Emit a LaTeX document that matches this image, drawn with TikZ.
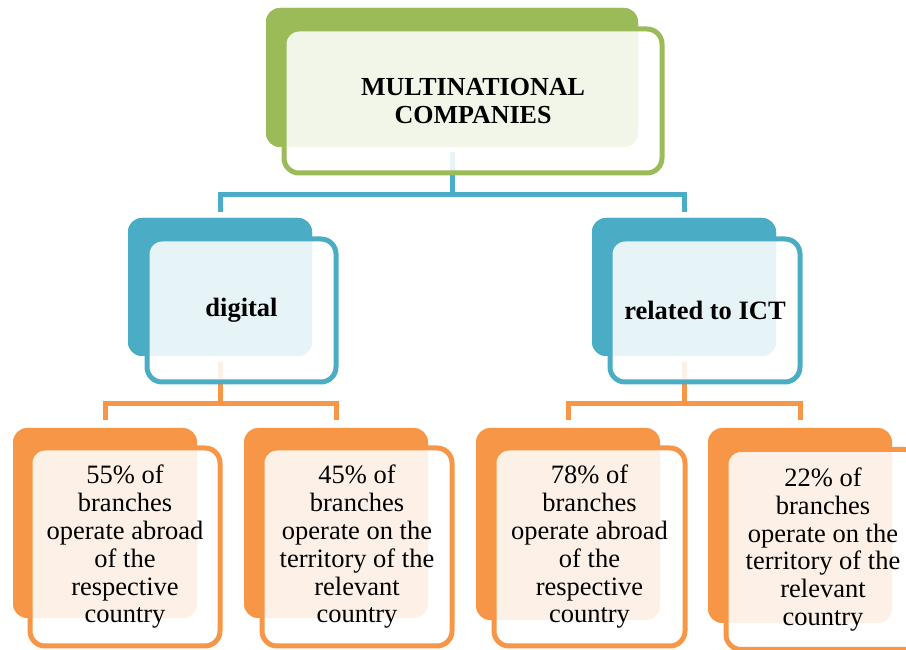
\documentclass[tikz,border=0pt]{standalone}
\usepackage{fontspec}
\setmainfont{Liberation Serif}
\begin{document}
\begin{tikzpicture}[x=1pt,y=1pt,
  backbox/.style={rectangle, rounded corners=14pt, draw=none, fill=#1,
    inner sep=0pt},
  frontbox/.style={rectangle, rounded corners=15pt, draw=#1, line width=5pt,
    fill=white, fill opacity=0.87, text opacity=1, inner sep=0pt,
    align=center, font=\fontsize{26.5}{27.8}\selectfont},
  con/.style={draw=#1, line width=5pt},
]
\definecolor{mgreen}{HTML}{9BBB59}
\definecolor{mblue}{HTML}{4BACC6}
\definecolor{morange}{HTML}{F79646}

\useasboundingbox (0,0) rectangle (906,650);
\clip (0,0) rectangle (906,650);

% back plates (solid colour)
\node[backbox=mgreen, minimum width=372pt, minimum height=139pt] (mncB) at (452,572.5) {};
\node[backbox=mblue, minimum width=184pt, minimum height=138pt] (digB) at (220,363) {};
\node[backbox=mblue, minimum width=184pt, minimum height=138pt] (ictB) at (684,363) {};
\node[backbox=morange, minimum width=184pt, minimum height=190pt] (aB) at (105,127) {};
\node[backbox=morange, minimum width=184pt, minimum height=190pt] (bB) at (336,127) {};
\node[backbox=morange, minimum width=184pt, minimum height=192pt] (cB) at (568,126) {};
\node[backbox=morange, minimum width=184pt, minimum height=195pt] (dB) at (800,124.5) {};

% connectors
\draw[con=mblue] ([yshift=-5pt]mncB.south) -- ++(0,-42) coordinate (busA);
\draw[con=mblue] ([yshift=6pt]digB.north) |- (busA) -| ([yshift=6pt]ictB.north);
\draw[con=morange] ([yshift=-6pt]digB.south) -- ++(0,-41) coordinate (busB);
\draw[con=morange] ([yshift=8pt]aB.north) |- (busB) -| ([yshift=8pt]bB.north);
\draw[con=morange] ([yshift=-6pt]ictB.south) -- ++(0,-41) coordinate (busC);
\draw[con=morange] ([yshift=8pt]cB.north) |- (busC) -| ([yshift=8pt]dB.north);

% redraw back plates over the connector ends
\node[backbox=mgreen, minimum width=372pt, minimum height=139pt] at (mncB) {};
\node[backbox=mblue, minimum width=184pt, minimum height=138pt] at (digB) {};
\node[backbox=mblue, minimum width=184pt, minimum height=138pt] at (ictB) {};

% front cards with the text
\node[frontbox=mgreen, minimum width=378pt, minimum height=144pt,
  font=\fontsize{26}{27.4}\selectfont] (mnc) at (473,549)
  {\textbf{MULTINATIONAL}\\\textbf{COMPANIES}};
\node[frontbox=mblue, minimum width=189pt, minimum height=143pt,
  font=\fontsize{26.5}{27.4}\selectfont] (dig) at (241.5,339.5)
  {\textbf{digital}};
\node[frontbox=mblue, minimum width=190pt, minimum height=143pt,
  font=\fontsize{26.5}{27.4}\selectfont] (ict) at (705,339.5)
  {\textbf{related to ICT}};
\node[frontbox=morange, minimum width=190pt, minimum height=198pt] (a) at (125,103)
  {55\% of\\branches\\operate abroad\\of the\\respective\\country};
\node[frontbox=morange, minimum width=190pt, minimum height=198pt] (b) at (357,103)
  {45\% of\\branches\\operate on the\\territory of the\\relevant\\country};
\node[frontbox=morange, minimum width=191pt, minimum height=198pt] (c) at (589.5,103)
  {78\% of\\branches\\operate abroad\\of the\\respective\\country};
\node[frontbox=morange, minimum width=194pt, minimum height=200pt] (d) at (823,100.5)
  {22\% of\\branches\\operate on the\\territory of the\\relevant\\country};
\end{tikzpicture}
\end{document}
